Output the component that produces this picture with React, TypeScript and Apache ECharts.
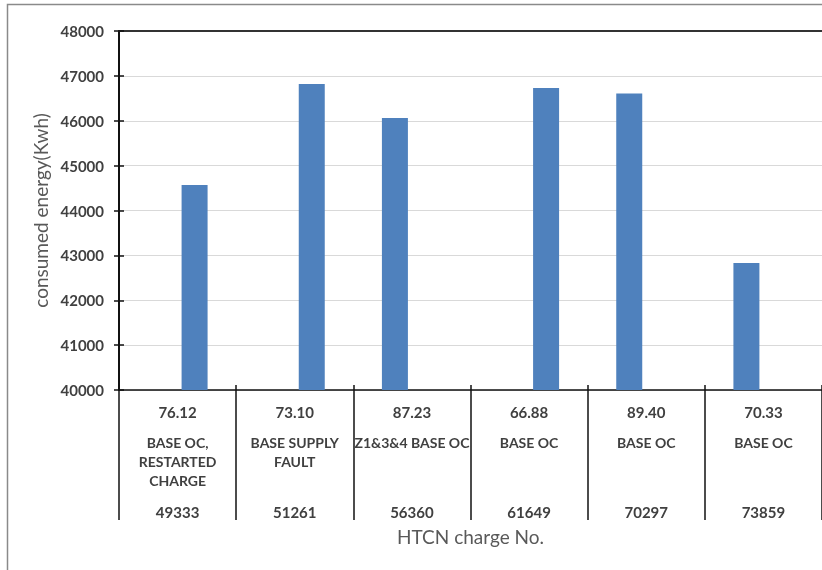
import React, { useEffect, useRef } from "react";
import * as echarts from "echarts";

// HTCN charge numbers (categories)
const chargeNo = ["49333", "51261", "56360", "61649", "70297", "73859"];
// first row of the category table
const chargeRatio = ["76.12", "73.10", "87.23", "66.88", "89.40", "70.33"];
// remarks row of the category table
const remarks: string[][] = [
  ["BASE OC,", "RESTARTED", "CHARGE"],
  ["BASE SUPPLY", "FAULT"],
  ["Z1&3&4 BASE OC"],
  ["BASE OC"],
  ["BASE OC"],
  ["BASE OC"],
];
// consumed energy (Kwh)
const energy = [44570, 46820, 46060, 46730, 46610, 42830];
// which slot of the pair the bar sits in
const slot = ["right", "right", "left", "right", "left", "left"];
// y axis ticks
const yMin = 40000;
const yMax = 48000;
const yStep = 1000;

const leftSlot = energy.map((v, i) => (slot[i] === "left" ? v : null));
const rightSlot = energy.map((v, i) => (slot[i] === "right" ? v : null));

const FONT = "Lato";
const BAR = "#4F81BD";

export default function App() {
  const ref = useRef<HTMLDivElement>(null);
  useEffect(() => {
    document.body.style.margin = "0";
    const chart = echarts.init(ref.current!, null, { renderer: "svg" });
    const labelFormatter = (_v: string, i: number) => {
      const lines = remarks[i].slice();
      while (lines.length < 3) lines.push(" ");
      return [
        `{v|${chargeRatio[i]}}`,
        ...lines.map((l) => `{d|${l}}`),
        `{n|${chargeNo[i]}}`,
      ].join("\n");
    };
    chart.setOption({
      animation: false,
      textStyle: { fontFamily: FONT },
      grid: { left: 119, top: 31, width: 704, height: 359, containLabel: false },
      graphic: [
        {
          type: "rect",
          shape: { x: 7.5, y: 4.5, width: 840, height: 600 },
          style: { fill: "none", stroke: "#8a8a8a", lineWidth: 1.5 },
          silent: true,
        },
      ],
      xAxis: [
        {
          type: "category",
          data: chargeNo,
          position: "bottom",
          boundaryGap: true,
          axisLine: { show: true, lineStyle: { color: "#111", width: 1.5 } },
          axisTick: {
            show: true,
            interval: 0,
            inside: false,
            length: 130,
            lineStyle: { color: "#111", width: 1.5 },
          },
          axisLabel: {
            interval: 0,
            margin: 1.5,
            color: "#404040",
            formatter: labelFormatter,
            rich: {
              v: { fontFamily: FONT, fontSize: 15, fontWeight: "bold", color: "#404040", lineHeight: 41 },
              d: { fontFamily: FONT, fontSize: 14, fontWeight: "bold", color: "#404040", lineHeight: 19 },
              n: { fontFamily: FONT, fontSize: 15, fontWeight: "bold", color: "#404040", lineHeight: 45 },
            },
          },
          name: "HTCN charge No.",
          nameLocation: "middle",
          nameGap: 137,
          nameTextStyle: { fontFamily: FONT, fontSize: 19, color: "#595959" },
          splitLine: { show: false },
        },
        {
          type: "category",
          data: chargeNo,
          position: "top",
          axisLine: { show: true, lineStyle: { color: "#333", width: 2 } },
          axisTick: { show: false },
          axisLabel: { show: false },
          splitLine: { show: false },
        },
        {
          type: "category",
          data: chargeNo,
          position: "bottom",
          axisLine: { show: false },
          axisTick: {
            show: true,
            interval: 0,
            inside: true,
            length: 5,
            lineStyle: { color: "#111", width: 1.5 },
          },
          axisLabel: { show: false },
          splitLine: { show: false },
        },
      ],
      yAxis: [
        {
          type: "value",
          min: yMin,
          max: yMax,
          interval: yStep,
          position: "left",
          axisLine: { show: true, lineStyle: { color: "#111", width: 2 } },
          axisTick: { show: true, inside: false, length: 5, lineStyle: { color: "#111", width: 1.5 } },
          axisLabel: {
            margin: 15,
            fontFamily: FONT,
            fontSize: 15,
            fontWeight: "bold",
            color: "#404040",
            formatter: (v: number) => String(v),
          },
          splitLine: { show: true, lineStyle: { color: "#d9d9d9", width: 1 } },
          name: "consumed energy(Kwh)",
          nameLocation: "middle",
          nameGap: 55,
          nameTextStyle: { fontFamily: FONT, fontSize: 19, color: "#595959" },
        },
        {
          type: "value",
          min: yMin,
          max: yMax,
          interval: yStep,
          position: "left",
          axisLine: { show: false },
          axisTick: { show: true, inside: true, length: 5, lineStyle: { color: "#111", width: 1.5 } },
          axisLabel: { show: false },
          splitLine: { show: false },
        },
      ],
      series: [
        {
          type: "bar",
          name: "left",
          xAxisIndex: 0,
          yAxisIndex: 0,
          data: leftSlot,
          barWidth: 26,
          barGap: "30.8%",
          itemStyle: { color: BAR },
        },
        {
          type: "bar",
          name: "right",
          xAxisIndex: 0,
          yAxisIndex: 0,
          data: rightSlot,
          barWidth: 26,
          barGap: "30.8%",
          itemStyle: { color: BAR },
        },
      ],
    });
    return () => chart.dispose();
  }, []);
  return (
    <div
      ref={ref}
      style={{ position: "fixed", left: 0, top: 0, width: 822, height: 570 }}
    />
  );
}
